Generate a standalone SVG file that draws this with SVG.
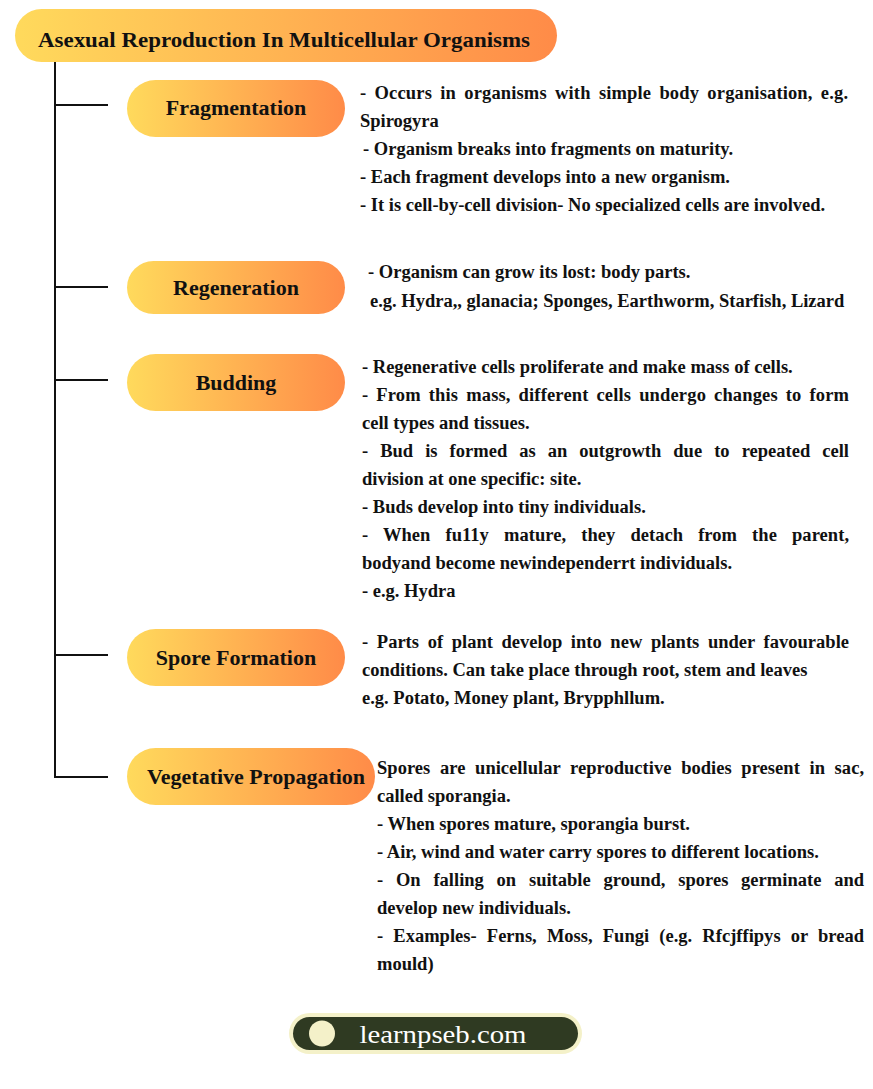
<svg xmlns="http://www.w3.org/2000/svg" width="873" height="1089" viewBox="0 0 873 1089">
<defs>
<linearGradient id="g" x1="0" y1="0" x2="1" y2="0">
<stop offset="0" stop-color="#FFDA5C"/>
<stop offset="1" stop-color="#FF8B48"/>
</linearGradient>
<style>
.pill{fill:url(#g);}
.lab{font-family:"Liberation Serif",serif;font-weight:bold;font-size:22px;fill:#111;text-anchor:middle;}
.t{font-family:"Liberation Serif",serif;font-weight:bold;font-size:18.5px;fill:#111;}
.ln{stroke:#111;stroke-width:2;fill:none;}
</style>
</defs>
<rect width="873" height="1089" fill="#fff"/>
<g id="header">
<rect class="pill" x="15" y="9" width="542" height="53" rx="26.5"/>
<text class="lab" x="284" y="47" textLength="492" lengthAdjust="spacingAndGlyphs">Asexual Reproduction In Multicellular Organisms</text>
</g>
<g id="connectors">
<path class="ln" d="M55 62 V778 M55 105 H108 M55 287 H108 M55 380 H108 M55 655 H108 M55 777 H108"/>
</g>
<g id="fragmentation">
<rect class="pill" x="127" y="80" width="218" height="57" rx="28.5"/>
<text class="lab" x="236" y="115">Fragmentation</text>
<text class="t" x="360" y="99" word-spacing="3.5" textLength="488" lengthAdjust="spacing">- Occurs in organisms with simple body organisation, e.g.</text>
<text class="t" x="360" y="127">Spirogyra</text>
<text class="t" x="363" y="155">- Organism breaks into fragments on maturity.</text>
<text class="t" x="360" y="183">- Each fragment develops into a new organism.</text>
<text class="t" x="360" y="211">- It is cell-by-cell division- No specialized cells are involved.</text>
</g>
<g id="regeneration">
<rect class="pill" x="127" y="261" width="218" height="53" rx="26.5"/>
<text class="lab" x="236" y="295">Regeneration</text>
<text class="t" x="368" y="278">- Organism can grow its lost: body parts.</text>
<text class="t" x="370" y="307">e.g. Hydra,, glanacia; Sponges, Earthworm, Starfish, Lizard</text>
</g>
<g id="budding">
<rect class="pill" x="127" y="354" width="218" height="57" rx="28.5"/>
<text class="lab" x="236" y="390">Budding</text>
<text class="t" x="362" y="373">- Regenerative cells proliferate and make mass of cells.</text>
<text class="t" x="362" y="401" word-spacing="3.2" textLength="487" lengthAdjust="spacing">- From this mass, different cells undergo changes to form</text>
<text class="t" x="362" y="429">cell types and tissues.</text>
<text class="t" x="362" y="457" word-spacing="7.4" textLength="487" lengthAdjust="spacing">- Bud is formed as an outgrowth due to repeated cell</text>
<text class="t" x="362" y="485">division at one specific: site.</text>
<text class="t" x="362" y="513">- Buds develop into tiny individuals.</text>
<text class="t" x="362" y="541" word-spacing="10.4" textLength="487" lengthAdjust="spacing">- When fu11y mature, they detach from the parent,</text>
<text class="t" x="362" y="569">bodyand become newindependerrt individuals.</text>
<text class="t" x="362" y="597">- e.g. Hydra</text>
</g>
<g id="spore-formation">
<rect class="pill" x="127" y="629" width="218" height="57" rx="28.5"/>
<text class="lab" x="236" y="665">Spore Formation</text>
<text class="t" x="362" y="648" word-spacing="4" textLength="487" lengthAdjust="spacing">- Parts of plant develop into new plants under favourable</text>
<text class="t" x="362" y="676">conditions. Can take place through root, stem and leaves</text>
<text class="t" x="362" y="704">e.g. Potato, Money plant, Brypphllum.</text>
</g>
<g id="vegetative-propagation">
<rect class="pill" x="127" y="748" width="248" height="57" rx="28.5"/>
<text class="lab" x="256" y="784">Vegetative Propagation</text>
<text class="t" x="377" y="774" word-spacing="5" textLength="487" lengthAdjust="spacing">Spores are unicellular reproductive bodies present in sac,</text>
<text class="t" x="377" y="802">called sporangia.</text>
<text class="t" x="377" y="830">- When spores mature, sporangia burst.</text>
<text class="t" x="377" y="858">- Air, wind and water carry spores to different locations.</text>
<text class="t" x="377" y="886" word-spacing="8.1" textLength="487" lengthAdjust="spacing">- On falling on suitable ground, spores germinate and</text>
<text class="t" x="377" y="914">develop new individuals.</text>
<text class="t" x="377" y="942" word-spacing="5.5" textLength="487" lengthAdjust="spacing">- Examples- Ferns, Moss, Fungi (e.g. Rfcjffipys or bread</text>
<text class="t" x="377" y="970">mould)</text>
</g>
<g id="logo">
<rect x="289" y="1013" width="293" height="41" rx="20.5" fill="#F4F1C9"/>
<rect x="293" y="1017" width="285" height="33" rx="16.5" fill="#2F3A22"/>
<circle cx="322" cy="1033.5" r="13" fill="#F4F1C9"/>
<text x="443" y="1043" font-family="Liberation Serif,serif" font-size="25" fill="#fff" text-anchor="middle" textLength="167" lengthAdjust="spacingAndGlyphs">learnpseb.com</text>
</g>
</svg>
